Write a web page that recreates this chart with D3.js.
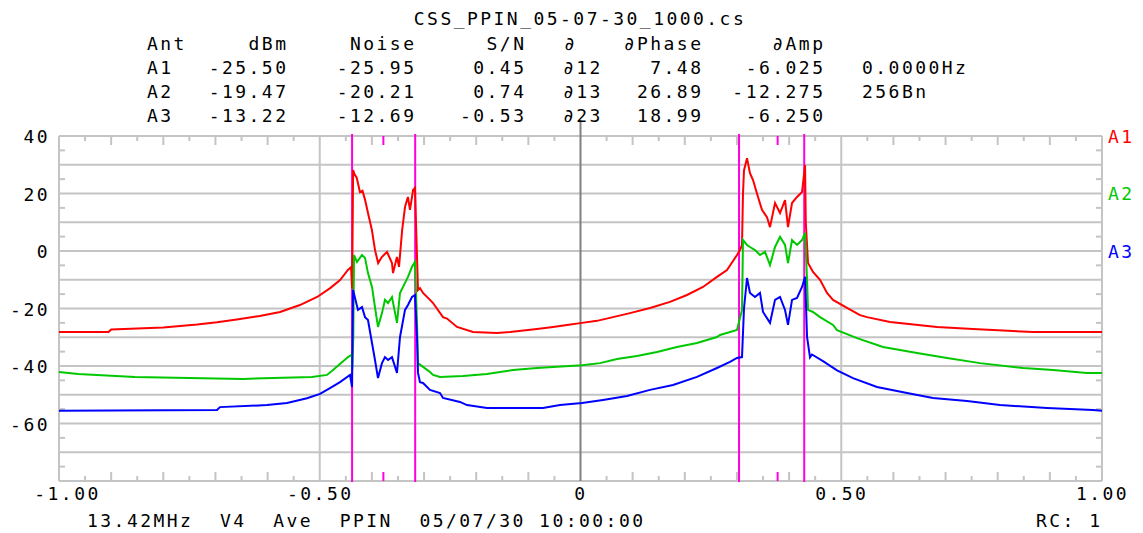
<!DOCTYPE html>
<html>
<head>
<meta charset="utf-8">
<script src="https://cdn.jsdelivr.net/npm/d3@7/dist/d3.min.js"></script>
<style>
  html, body { margin: 0; padding: 0; background: #fff; }
  svg { display: block; }
  text { font-family: "DejaVu Sans Mono", "Liberation Mono", monospace; font-size: 18px; letter-spacing: 2.46px; white-space: pre; }
</style>
</head>
<body>
<svg id="chart" width="1143" height="533"></svg>
<script>
// ---------------- data ----------------
const title = "CSS_PPIN_05-07-30_1000.cs";
const headerLeft = ["Ant"];
const headerCols = ["dBm", "Noise", "S/N", "∂", "∂Phase", "∂Amp"];
const antNames = ["A1", "A2", "A3"];
const dBmVals = ["-25.50", "-19.47", "-13.22"];
const noiseVals = ["-25.95", "-20.21", "-12.69"];
const snVals = ["0.45", "0.74", "-0.53"];
const pairNames = ["∂12", "∂13", "∂23"];
const dPhaseVals = ["7.48", "26.89", "18.99"];
const dAmpVals = ["-6.025", "-12.275", "-6.250"];
const infoVals = ["0.0000Hz", "256Bn", ""];
const footerLeft = "13.42MHz  V4  Ave  PPIN  05/07/30 10:00:00";
const footerRight = "RC: 1";

const xTicks = [-1, -0.5, 0, 0.5, 1];
const xTickLabels = ["-1.00", "-0.50", "0", "0.50", "1.00"];
const yTicks = [40, 20, 0, -20, -40, -60];
const yTickLabels = ["40", "20", "0", "-20", "-40", "-60"];

const bandLines = [-0.438, -0.317, 0.304, 0.429];
const cursorMarks = [-0.378, 0.378];

// series: [freq (normalised), level dB]
const seriesA1 = [
  [-1.000,-28.2],[-0.905,-28.2],[-0.900,-27.3],[-0.800,-26.6],[-0.735,-25.6],[-0.697,-24.8],
  [-0.659,-23.8],[-0.615,-22.6],[-0.576,-21.2],[-0.538,-18.8],[-0.505,-16.0],[-0.480,-12.9],
  [-0.461,-10.1],[-0.446,-6.6],[-0.440,-5.6],[-0.438,-13.0],[-0.436,28.2],[-0.434,27.0],
  [-0.429,25.4],[-0.423,20.5],[-0.418,21.0],[-0.413,17.7],[-0.4075,13.2],[-0.400,7.3],
  [-0.394,0.3],[-0.388,-4.2],[-0.381,-2.1],[-0.371,-0.3],[-0.3615,-4.2],[-0.3595,-7.7],
  [-0.352,-2.1],[-0.348,-5.5],[-0.342,7.3],[-0.3365,15.3],[-0.331,18.8],[-0.327,14.3],
  [-0.321,21.2],[-0.3174,21.9],[-0.3116,-13.6],[-0.3078,-12.9],[-0.302,-14.6],[-0.2886,-17.0],
  [-0.2828,-18.1],[-0.2637,-23.0],[-0.256,-23.5],[-0.2368,-26.4],[-0.2061,-28.2],[-0.1601,-28.5],
  [-0.1352,-28.2],[-0.0834,-27.1],[-0.0527,-26.4],[-0.0259,-25.7],[0.0029,-25.0],[0.0316,-24.3],
  [0.0623,-23.0],[0.0949,-21.6],[0.1333,-19.8],[0.1716,-17.7],[0.2042,-15.3],[0.2349,-12.5],
  [0.2617,-9.0],[0.2809,-6.6],[0.3001,-1.4],[0.3058,0.3],[0.3097,2.0],[0.3116,20.0],
  [0.3135,28.0],[0.3193,32.3],[0.3250,27.1],[0.3308,24.7],[0.3404,18.8],[0.3480,14.3],
  [0.3576,11.8],[0.3634,8.3],[0.3730,16.7],[0.3826,13.2],[0.3922,17.7],[0.3979,8.3],
  [0.4056,16.7],[0.4152,18.8],[0.4248,20.5],[0.4306,29.9],[0.4320,10.0],[0.4363,-4.2],
  [0.4458,-7.3],[0.4593,-10.0],[0.4727,-14.6],[0.4842,-17.0],[0.5110,-19.8],[0.5360,-22.3],
  [0.5494,-23.0],[0.5935,-24.7],[0.6836,-26.4],[0.7526,-27.1],[0.8677,-28.2],[1.000,-28.2]
];
const seriesA2 = [
  [-1.000,-42.1],[-0.9636,-42.8],[-0.8543,-43.8],[-0.6472,-44.5],[-0.5149,-43.8],[-0.4861,-43.1],
  [-0.4746,-41.4],[-0.4458,-36.9],[-0.4381,-36.0],[-0.4376,-41.0],[-0.4357,-30.0],[-0.4343,-1.4],
  [-0.4286,-3.8],[-0.4190,-1.4],[-0.4132,-2.4],[-0.4075,-7.7],[-0.3998,-12.5],[-0.3941,-19.5],
  [-0.3883,-26.4],[-0.3807,-21.6],[-0.3749,-17.0],[-0.3691,-18.1],[-0.3615,-16.0],[-0.3519,-25.0],
  [-0.3461,-14.6],[-0.3365,-11.1],[-0.3308,-9.0],[-0.3231,-5.5],[-0.3174,-3.8],[-0.3135,-25.0],
  [-0.3116,-39.0],[-0.3020,-40.3],[-0.2886,-42.1],[-0.2828,-43.1],[-0.2694,-43.8],[-0.2253,-43.5],
  [-0.1793,-42.8],[-0.1294,-41.4],[-0.0834,-40.7],[-0.0451,-40.3],[0.0029,-39.7],[0.0374,-39.0],
  [0.0700,-37.6],[0.1083,-36.5],[0.1467,-35.1],[0.1850,-33.4],[0.2234,-32.0],[0.2617,-29.9],
  [0.2675,-29.2],[0.3001,-27.5],[0.3097,-20.5],[0.3116,3.8],[0.3193,2.1],[0.3250,1.4],
  [0.3346,0.3],[0.3442,-1.4],[0.3538,-0.3],[0.3634,-4.9],[0.3730,1.4],[0.3826,4.9],
  [0.3922,2.1],[0.3979,-4.2],[0.4056,3.8],[0.4152,2.1],[0.4248,3.8],[0.4306,6.3],
  [0.4344,-10.0],[0.4363,-20.5],[0.4458,-21.2],[0.4593,-23.0],[0.4842,-25.7],[0.4919,-27.5],
  [0.5302,-30.3],[0.5801,-33.4],[0.6453,-35.5],[0.7028,-37.2],[0.7661,-39.0],[0.8485,-40.7],
  [0.9061,-41.4],[0.9712,-42.4],[1.000,-42.4]
];
const seriesA3 = [
  [-1.000,-55.6],[-0.6970,-55.3],[-0.6913,-54.3],[-0.6012,-53.6],[-0.5628,-52.9],[-0.5244,-51.2],
  [-0.4995,-49.7],[-0.4804,-47.7],[-0.4612,-45.6],[-0.4420,-43.1],[-0.4381,-47.3],[-0.4362,-13.6],
  [-0.4267,-20.5],[-0.4190,-19.5],[-0.4132,-23.0],[-0.4075,-24.0],[-0.3998,-32.0],[-0.3941,-37.9],
  [-0.3883,-44.2],[-0.3807,-39.0],[-0.3749,-36.9],[-0.3691,-37.9],[-0.3615,-36.9],[-0.3519,-42.4],
  [-0.3461,-29.9],[-0.3365,-20.5],[-0.3308,-18.8],[-0.3231,-16.0],[-0.3174,-15.3],[-0.3135,-30.0],
  [-0.3116,-42.4],[-0.3078,-45.6],[-0.3020,-45.9],[-0.2886,-48.3],[-0.2694,-49.4],[-0.2637,-51.1],
  [-0.2311,-52.5],[-0.2177,-53.6],[-0.1793,-54.6],[-0.0719,-54.6],[-0.0393,-53.6],[0.0029,-52.9],
  [0.0432,-51.8],[0.0892,-50.4],[0.1333,-48.3],[0.1774,-46.6],[0.2234,-43.8],[0.2617,-40.7],
  [0.2866,-38.6],[0.3001,-37.2],[0.3097,-36.9],[0.3135,-20.0],[0.3193,-9.4],[0.3250,-14.6],
  [0.3346,-16.0],[0.3442,-14.6],[0.3500,-21.2],[0.3634,-25.0],[0.3730,-17.0],[0.3826,-16.0],
  [0.3922,-20.5],[0.3979,-25.7],[0.4056,-17.0],[0.4152,-16.3],[0.4248,-12.5],[0.4306,-9.0],
  [0.4344,-29.9],[0.4401,-37.0],[0.4439,-36.0],[0.4650,-38.3],[0.4919,-41.5],[0.5225,-44.2],
  [0.5685,-47.3],[0.6261,-49.4],[0.6759,-51.1],[0.7411,-52.2],[0.8044,-53.6],[0.8945,-54.6],
  [0.9827,-55.3],[1.000,-55.6]
];
const seriesList = [
  { name: "A1", color: "#ff0000", data: seriesA1 },
  { name: "A2", color: "#00c800", data: seriesA2 },
  { name: "A3", color: "#0000ff", data: seriesA3 }
];

// ---------------- layout ----------------
const plot = { left: 59, right: 1102, top: 136, bottom: 481 };
const pitch = 13.3; // character advance
const svg = d3.select("#chart");

const x = d3.scaleLinear().domain([-1, 1]).range([plot.left, plot.right]);
const y = d3.scaleLinear().domain([-80, 40]).range([plot.bottom, plot.top]);

const gridColor = "#c4c4c4";

function txt(px, py, s, color, anchor) {
  return svg.append("text").attr("x", px).attr("y", py)
    .attr("fill", color || "#000").attr("text-anchor", anchor || "start").text(s);
}
function rtxt(right, py, s, color) { // right aligned by character count
  return txt(right - s.length * pitch + 2.46, py, s, color);
}

// grid
const gGrid = svg.append("g");
gGrid.selectAll("line.h").data(d3.range(-80, 41, 10)).join("line")
  .attr("x1", plot.left).attr("x2", plot.right)
  .attr("y1", d => y(d)).attr("y2", d => y(d))
  .attr("stroke", gridColor).attr("stroke-width", 2);
gGrid.selectAll("line.v").data([-1, -0.5, 0.5, 1]).join("line")
  .attr("x1", d => x(d)).attr("x2", d => x(d))
  .attr("y1", plot.top).attr("y2", plot.bottom)
  .attr("stroke", gridColor).attr("stroke-width", 2);

// minor ticks (x)
const xMinor = d3.range(-19, 20).map(i => i * 0.05).filter(v => Math.abs(Math.round(v * 100) % 50) !== 0);
const tickLen = v => (Math.abs(Math.round(v * 100)) % 10 === 0 ? 9 : 5);
gGrid.selectAll("line.tt").data(xMinor).join("line")
  .attr("x1", d => x(d)).attr("x2", d => x(d))
  .attr("y1", plot.top).attr("y2", d => plot.top + tickLen(d))
  .attr("stroke", gridColor).attr("stroke-width", 2);
gGrid.selectAll("line.tb").data(xMinor).join("line")
  .attr("x1", d => x(d)).attr("x2", d => x(d))
  .attr("y1", plot.bottom).attr("y2", d => plot.bottom - tickLen(d))
  .attr("stroke", gridColor).attr("stroke-width", 2);
// minor ticks (y)
const yMinor = d3.range(-75, 40, 10);
gGrid.selectAll("line.tl").data(yMinor).join("line")
  .attr("x1", plot.left).attr("x2", plot.left + 6)
  .attr("y1", d => y(d)).attr("y2", d => y(d))
  .attr("stroke", gridColor).attr("stroke-width", 2);
gGrid.selectAll("line.tr").data(yMinor).join("line")
  .attr("x1", plot.right).attr("x2", plot.right - 6)
  .attr("y1", d => y(d)).attr("y2", d => y(d))
  .attr("stroke", gridColor).attr("stroke-width", 2);

// zero line
svg.append("line").attr("x1", x(0)).attr("x2", x(0)).attr("y1", 120).attr("y2", plot.bottom)
  .attr("stroke", "#808080").attr("stroke-width", 2);

// band lines + cursor marks
const magenta = "#ff00e0";
svg.selectAll("line.band").data(bandLines).join("line")
  .attr("x1", d => x(d)).attr("x2", d => x(d)).attr("y1", plot.top - 2).attr("y2", plot.bottom + 1)
  .attr("stroke", magenta).attr("stroke-width", 2);
cursorMarks.forEach(c => {
  svg.append("line").attr("x1", x(c)).attr("x2", x(c)).attr("y1", plot.top).attr("y2", plot.top + 9)
    .attr("stroke", magenta).attr("stroke-width", 2);
  svg.append("line").attr("x1", x(c)).attr("x2", x(c)).attr("y1", plot.bottom - 9).attr("y2", plot.bottom)
    .attr("stroke", magenta).attr("stroke-width", 2);
});

// curves
const line = d3.line().x(d => x(d[0])).y(d => y(d[1])).curve(d3.curveLinear);
svg.selectAll("path.series").data(seriesList).join("path")
  .attr("d", d => line(d.data)).attr("fill", "none")
  .attr("stroke", d => d.color).attr("stroke-width", 2).attr("stroke-linejoin", "miter");

// axes labels via d3 axes
const xAxis = d3.axisBottom(x).tickValues(xTicks).tickSize(0).tickPadding(0)
  .tickFormat((d, i) => xTickLabels[i]);
const gx = svg.append("g").attr("transform", `translate(0,${plot.bottom})`).call(xAxis);
gx.select(".domain").remove();
gx.selectAll("text").attr("dy", null).attr("y", 19).attr("fill", "#000")
  .attr("dx", d => (d === -1 ? 8 : 0));

const yAxis = d3.axisLeft(y).tickValues(yTicks).tickSize(0).tickPadding(0)
  .tickFormat((d, i) => yTickLabels[i]);
const gy = svg.append("g").attr("transform", `translate(${plot.left - 9},0)`).call(yAxis);
gy.select(".domain").remove();
gy.selectAll("text").attr("dy", null).attr("y", 6.5).attr("fill", "#000");
gx.attr("font-family", null).attr("font-size", null);
gy.attr("font-family", null).attr("font-size", null);

// legend at right
seriesList.forEach((s, i) => {
  txt(plot.right + 6, y(40 - i * 20) + 6.5, s.name, s.color);
});

// header
txt(580, 24.5, title, "#000", "middle");
const rowY = [49.5, 73.5, 97.5, 121.5];
txt(147, rowY[0], headerLeft[0]);
const colRight = { dBm: 286, Noise: 414, SN: 524, Phase: 701, Amp: 823 };
rtxt(colRight.dBm, rowY[0], headerCols[0]);
rtxt(colRight.Noise, rowY[0], headerCols[1]);
rtxt(colRight.SN, rowY[0], headerCols[2]);
txt(564, rowY[0], headerCols[3]);
rtxt(colRight.Phase, rowY[0], headerCols[4]);
rtxt(colRight.Amp, rowY[0], headerCols[5]);
antNames.forEach((a, i) => {
  const yy = rowY[i + 1];
  txt(147, yy, a);
  rtxt(colRight.dBm, yy, dBmVals[i]);
  rtxt(colRight.Noise, yy, noiseVals[i]);
  rtxt(colRight.SN, yy, snVals[i]);
  txt(563, yy, pairNames[i]);
  rtxt(colRight.Phase, yy, dPhaseVals[i]);
  rtxt(colRight.Amp, yy, dAmpVals[i]);
  if (infoVals[i]) txt(862, yy, infoVals[i]);
});

// footer
txt(87, 527, footerLeft);
rtxt(1100, 527, footerRight);
</script>
</body>
</html>
